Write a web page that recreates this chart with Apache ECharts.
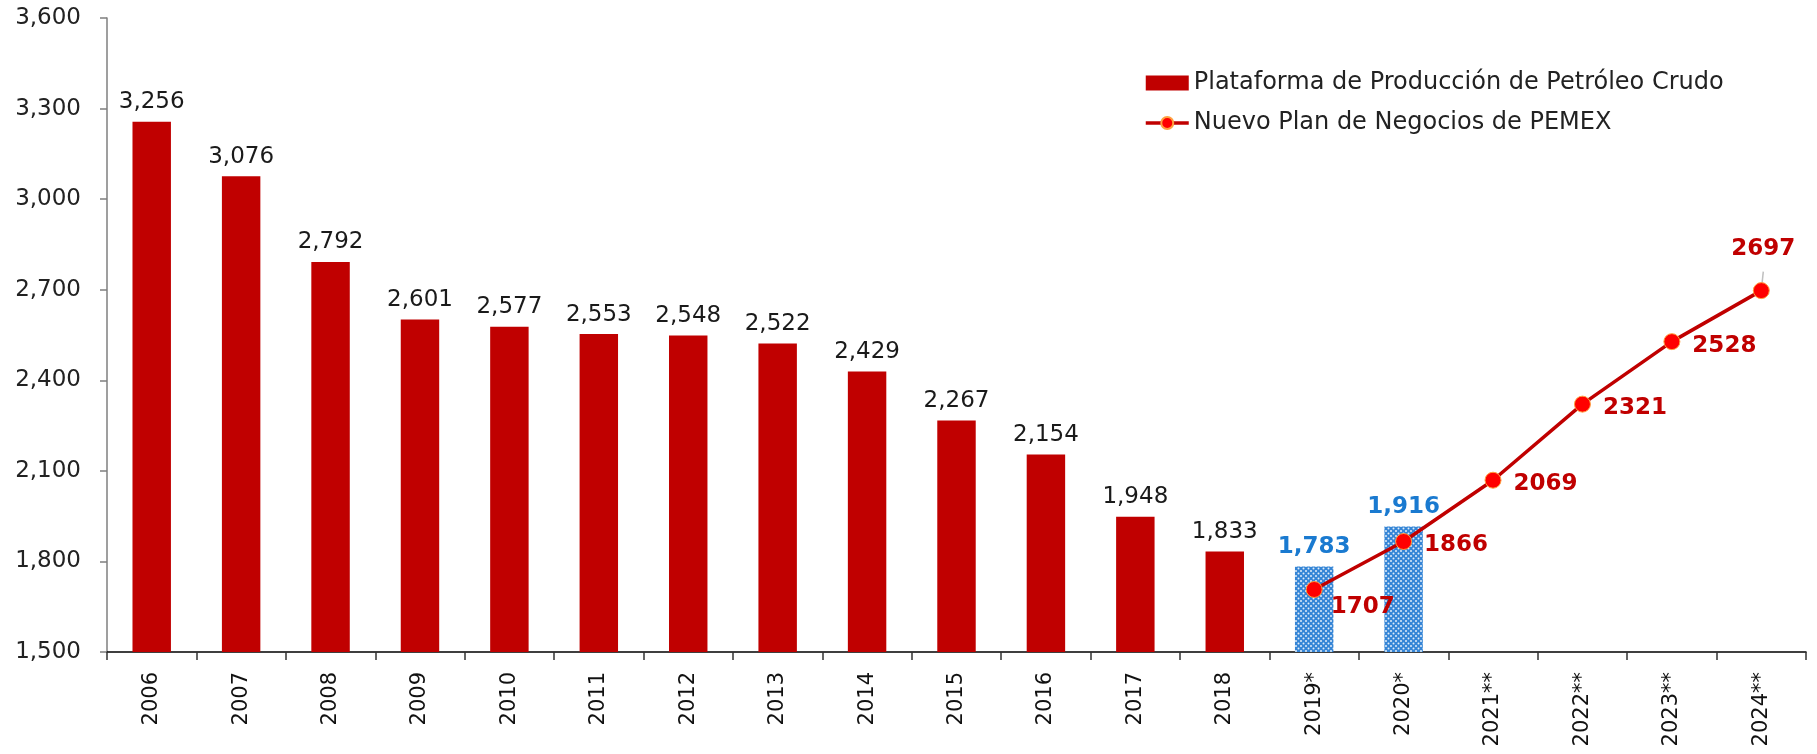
<!DOCTYPE html>
<html>
<head>
<meta charset="utf-8">
<script src="https://cdn.jsdelivr.net/npm/echarts@6/dist/echarts.min.js"></script>
<style>
  html, body { margin: 0; padding: 0; background: #fff; }
  #main { width: 1817px; height: 754px; }
</style>
</head>
<body>
<div id="main"></div>
<script>
// categorias del eje x
var years = ['2006', '2007', '2008', '2009', '2010', '2011', '2012', '2013', '2014', '2015',
  '2016', '2017', '2018', '2019*', '2020*', '2021**', '2022**', '2023**', '2024**'];
// plataforma de produccion (barras rojas)
var produccion = [3256, 3076, 2792, 2601, 2577, 2553, 2548, 2522, 2429, 2267, 2154, 1948, 1833];
// estimados 2019* y 2020* (barras azules)
var estimado = [1783, 1916];
// nuevo plan de negocios (linea), desde 2019
var planYears = ['2019*', '2020*', '2021**', '2022**', '2023**', '2024**'];
var plan = [1707, 1866, 2069, 2321, 2528, 2697];
// eje y
var yMin = 1500, yMax = 3600, yStep = 300;

var FONT = 'DejaVu Sans';

function fmt(v) {
  return String(v).replace(/\B(?=(\d{3})+(?!\d))/g, ',');
}

// patron de puntos para las barras azules
var pat = document.createElement('canvas');
pat.width = 5; pat.height = 5;
var pc = pat.getContext('2d');
pc.fillStyle = '#3585d6';
pc.fillRect(0, 0, 5, 5);
pc.fillStyle = 'rgba(255,255,255,0.85)';
pc.beginPath(); pc.arc(1, 1, 1, 0, Math.PI * 2); pc.fill();
pc.beginPath(); pc.arc(3.5, 3.5, 1, 0, Math.PI * 2); pc.fill();

var barData = years.map(function (y, i) {
  if (i < produccion.length) return produccion[i];
  var j = i - produccion.length;
  if (j < estimado.length) {
    return {
      value: estimado[j],
      itemStyle: { color: { image: pat, repeat: 'repeat' } },
      label: { color: '#1a7ad0', fontWeight: 'bold' }
    };
  }
  return '-';
});

var lineData = years.map(function (y) {
  var k = planYears.indexOf(y);
  if (k < 0) return '-';
  var item = { value: plan[k] };
  if (k === 0) item.label = { offset: [-4, 18] };
  if (k === planYears.length - 1) {
    item.label = { position: 'top', distance: 22, offset: [2, 0] };
    item.labelLine = { show: true };
  }
  return item;
});

var chart = echarts.init(document.getElementById('main'));

var option = {
  animation: false,
  textStyle: { fontFamily: FONT },
  grid: { left: 107, right: 11, top: 18, bottom: 102, containLabel: false },
  legend: {
    orient: 'vertical',
    left: 1139,
    top: 66,
    itemWidth: 43,
    itemHeight: 15,
    itemGap: 16,
    textStyle: { fontFamily: FONT, fontSize: 24, color: '#222' },
    lineStyle: { width: 3.5 },
    data: [
      { name: 'Plataforma de Producción de Petróleo Crudo', icon: 'rect' },
      { name: 'Nuevo Plan de Negocios de PEMEX' }
    ]
  },
  xAxis: {
    type: 'category',
    data: years,
    axisLine: { lineStyle: { color: '#000', width: 1.5 } },
    axisTick: { show: true, length: 8, lineStyle: { color: '#333', width: 1.5 } },
    axisLabel: { rotate: 90, fontSize: 21, color: '#111', margin: 20, fontFamily: FONT }
  },
  yAxis: {
    type: 'value',
    min: yMin,
    max: yMax,
    interval: yStep,
    splitLine: { show: false },
    axisLine: { show: true, lineStyle: { color: '#7f7f7f', width: 1.5 } },
    axisTick: { show: true, length: 7, lineStyle: { color: '#7f7f7f', width: 1.5 } },
    axisLabel: { fontSize: 23, color: '#222', margin: 26, fontFamily: FONT, formatter: fmt }
  },
  series: [
    {
      name: 'Plataforma de Producción de Petróleo Crudo',
      type: 'bar',
      barWidth: '43%',
      itemStyle: { color: '#c00000' },
      label: {
        show: true,
        position: 'top',
        distance: 8,
        fontSize: 23,
        color: '#1a1a1a',
        fontFamily: FONT,
        formatter: function (p) { return fmt(p.value); }
      },
      data: barData
    },
    {
      name: 'Nuevo Plan de Negocios de PEMEX',
      type: 'line',
      connectNulls: false,
      symbol: 'circle',
      symbolSize: 16,
      lineStyle: { color: '#c00000', width: 3.5 },
      itemStyle: { color: '#ff0000', borderColor: '#ffa040', borderWidth: 1 },
      label: {
        show: true,
        position: 'right',
        distance: 12,
        offset: [0, 4],
        fontSize: 23,
        fontWeight: 'bold',
        color: '#c00000',
        fontFamily: FONT
      },
      labelLine: { show: false, lineStyle: { color: '#bfbfbf', width: 1.5 } },
      z: 3,
      data: lineData
    }
  ]
};

chart.setOption(option);
</script>
</body>
</html>
